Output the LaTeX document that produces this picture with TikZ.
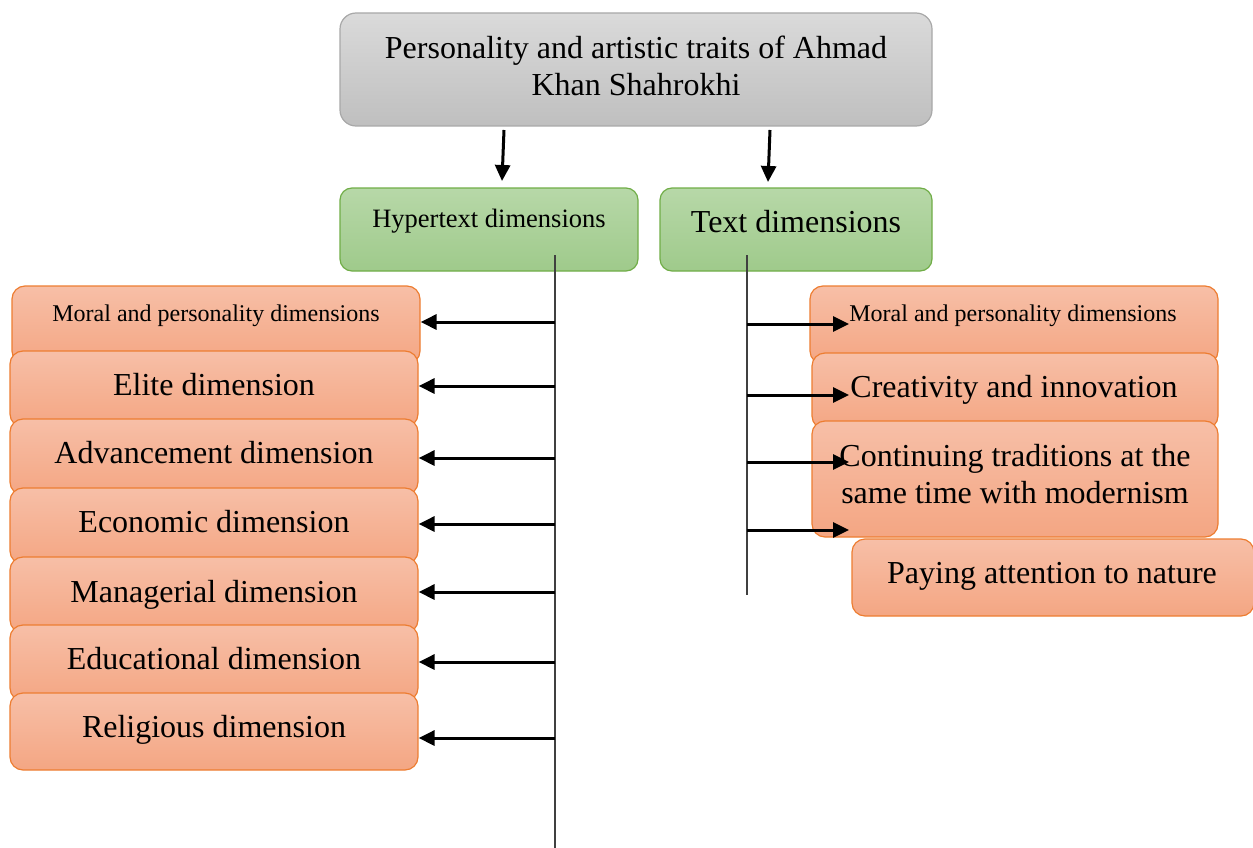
\documentclass[tikz,border=0pt]{standalone}
\usepackage{fontspec}
\setmainfont{Liberation Serif}
\usetikzlibrary{arrows.meta}
\definecolor{grayT}{HTML}{DADADA}
\definecolor{grayB}{HTML}{BFBFBF}
\definecolor{grayD}{HTML}{A8A8A8}
\definecolor{greenT}{HTML}{B7D8A8}
\definecolor{greenB}{HTML}{9FCA8B}
\definecolor{greenD}{HTML}{70AD47}
\definecolor{orT}{HTML}{F7BFA7}
\definecolor{orB}{HTML}{F4A683}
\definecolor{orD}{HTML}{ED7D31}
\tikzset{
  graybox/.style={draw=grayD, line width=1.2pt, rounded corners=16pt, top color=grayT, bottom color=grayB, inner sep=0pt},
  greenbox/.style={draw=greenD, line width=1.2pt, rounded corners=12pt, top color=greenT, bottom color=greenB, inner sep=0pt},
  orbox/.style={draw=orD, line width=1.2pt, rounded corners=13pt, top color=orT, bottom color=orB, inner sep=0pt},
  big/.style={font=\fontsize{32}{37.5}\selectfont, inner sep=0pt, align=center},
  mid/.style={font=\fontsize{26.5}{30}\selectfont, inner sep=0pt},
  small/.style={font=\fontsize{24}{28}\selectfont, inner sep=0pt},
  arr/.style={line width=3pt, -{Triangle[length=16pt,width=15pt]}},
  vline/.style={line width=1.4pt, draw=black!75},
}
\begin{document}
\begin{tikzpicture}[x=1pt,y=-1pt]
\useasboundingbox (0,0) rectangle (1253,848);

% top box
\node[graybox, minimum width=592pt, minimum height=113pt] (top) at (636,69.5) {};
\node[big] (topt) at (636,66) {Personality and artistic traits of Ahmad\\Khan Shahrokhi};

% green boxes
\node[greenbox, minimum width=298pt, minimum height=83pt] (hyp) at (489,229.5) {};
\node[mid, anchor=base] (hypt) at (489,227) {Hypertext dimensions};
\node[greenbox, minimum width=272pt, minimum height=83pt] (txt) at (796,229.5) {};
\node[big, anchor=base] (txtt) at (796,232) {Text dimensions};

% top arrows
\coordinate (a1s) at (504,130);
\coordinate (a1e) at (502,181);
\coordinate (a2s) at (770,130);
\coordinate (a2e) at (768,182);
\draw[arr] (a1s) -- (a1e);
\draw[arr] (a2s) -- (a2e);

% left boxes
\node[orbox, minimum width=408pt, minimum height=78pt] (l1) at (216,325) {};
\node[small, anchor=base] (l1t) at (216,321) {Moral and personality dimensions};
\node[orbox, minimum width=408pt, minimum height=76pt] (l2) at (214,389) {};
\node[big, anchor=base] (l2t) at (214,395) {Elite dimension};
\node[orbox, minimum width=408pt, minimum height=76pt] (l3) at (214,457) {};
\node[big, anchor=base] (l3t) at (214,463) {Advancement dimension};
\node[orbox, minimum width=408pt, minimum height=76pt] (l4) at (214,526) {};
\node[big, anchor=base] (l4t) at (214,532) {Economic dimension};
\node[orbox, minimum width=408pt, minimum height=76pt] (l5) at (214,595) {};
\node[big, anchor=base] (l5t) at (214,602) {Managerial dimension};
\node[orbox, minimum width=408pt, minimum height=76pt] (l6) at (214,663) {};
\node[big, anchor=base] (l6t) at (214,669) {Educational dimension};
\node[orbox, minimum width=408pt, minimum height=77pt] (l7) at (214,731.5) {};
\node[big, anchor=base] (l7t) at (214,737) {Religious dimension};

% right boxes
\node[orbox, minimum width=408pt, minimum height=78pt] (r1) at (1014,325) {};
\node[small, anchor=base] (r1t) at (1013,321) {Moral and personality dimensions};
\node[orbox, minimum width=406pt, minimum height=76pt] (r2) at (1015,391) {};
\node[big, anchor=base] (r2t) at (1014,397) {Creativity and innovation};
\node[orbox, minimum width=406pt, minimum height=116pt] (r3) at (1015,479) {};
\node[big] (r3t) at (1015,474) {Continuing traditions at the\\same time with modernism};
\node[orbox, minimum width=402pt, minimum height=77pt] (r4) at (1053,577.5) {};
\node[big, anchor=base] (r4t) at (1052,583) {Paying attention to nature};

% vertical lines
\coordinate (v1s) at (555,255);
\coordinate (v1e) at (555,848);
\coordinate (v2s) at (747,255);
\coordinate (v2e) at (747,595);
\draw[vline] (v1s) -- (v1e);
\draw[vline] (v2s) -- (v2e);

% left arrows
\foreach \n/\y in {1/322,2/386,3/458,4/524,5/592,6/662,7/738}{
  \coordinate (L\n) at (555,\y);
  \draw[arr] (L\n) -- (L\n -| l\n.east);
}

% right arrows
\foreach \n/\y in {1/324,2/395,3/462,4/530}{
  \coordinate (R\n) at (747,\y);
  \coordinate (Q\n) at (849,\y);
  \draw[arr] (R\n) -- (Q\n);
}
\end{tikzpicture}
\end{document}
